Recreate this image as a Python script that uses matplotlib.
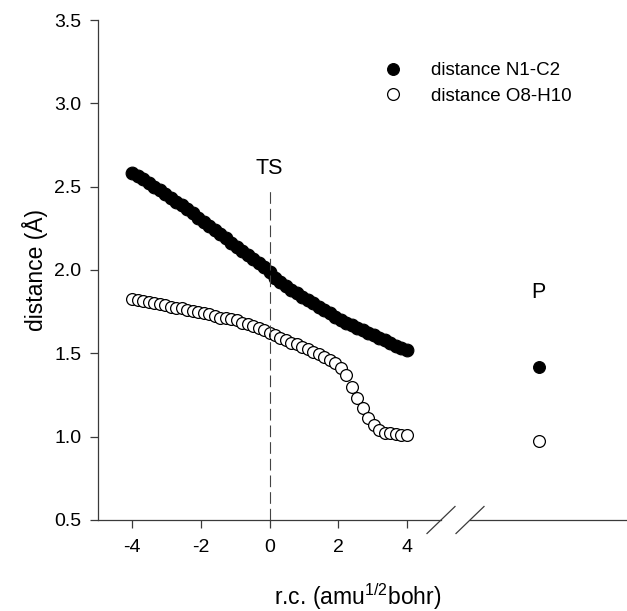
import matplotlib
matplotlib.use("Agg")
import matplotlib.pyplot as plt
from matplotlib.lines import Line2D

plt.rcParams["font.family"] = ["Liberation Sans", "DejaVu Sans"]
plt.rcParams["mathtext.default"] = "regular"
plt.rcParams["axes.unicode_minus"] = False

# reaction coordinate (amu^1/2 bohr)
rc = [-4.00, -3.84, -3.68, -3.52, -3.36, -3.20, -3.04, -2.88, -2.72, -2.56,
      -2.40, -2.24, -2.08, -1.92, -1.76, -1.60, -1.44, -1.28, -1.12, -0.96,
      -0.80, -0.64, -0.48, -0.32, -0.16, 0.00, 0.16, 0.32, 0.48, 0.64,
      0.80, 0.96, 1.12, 1.28, 1.44, 1.60, 1.76, 1.92, 2.08, 2.24,
      2.40, 2.56, 2.72, 2.88, 3.04, 3.20, 3.36, 3.52, 3.68, 3.84, 4.00]

# distance N1-C2 (filled)
d_n1c2 = [2.580, 2.565, 2.545, 2.520, 2.500, 2.480, 2.455, 2.435, 2.410, 2.390,
          2.365, 2.340, 2.315, 2.290, 2.265, 2.240, 2.215, 2.190, 2.165, 2.140,
          2.115, 2.090, 2.065, 2.045, 2.020, 1.990, 1.955, 1.930, 1.905, 1.880,
          1.860, 1.840, 1.820, 1.800, 1.780, 1.760, 1.740, 1.720, 1.700, 1.685,
          1.670, 1.655, 1.640, 1.625, 1.610, 1.595, 1.580, 1.560, 1.545, 1.530,
          1.520]

# distance O8-H10 (open)
d_o8h10 = [1.825, 1.820, 1.815, 1.810, 1.800, 1.795, 1.790, 1.780, 1.775, 1.770,
           1.760, 1.755, 1.750, 1.740, 1.735, 1.725, 1.715, 1.710, 1.705, 1.700,
           1.685, 1.675, 1.665, 1.650, 1.640, 1.625, 1.610, 1.595, 1.580, 1.565,
           1.555, 1.540, 1.525, 1.510, 1.495, 1.480, 1.460, 1.445, 1.415, 1.370,
           1.300, 1.235, 1.170, 1.115, 1.070, 1.040, 1.025, 1.020, 1.015, 1.010,
           1.010]

# product point (placed on its own segment after the axis break)
p_x = [7.0]
p_n1c2 = [1.42]
p_o8h10 = [0.975]

xticks = [-4, -2, 0, 2, 4]
yticks = [0.5, 1.0, 1.5, 2.0, 2.5, 3.0, 3.5]
ts_x = 0.0
ts_top = 2.48

AX_COLOR = "#3a3a3a"
MS_FILL = 9.2
MS_OPEN = 8.5

fig = plt.figure(figsize=(6.27, 6.11), dpi=100)
W, H = 627.0, 611.0
ax = fig.add_axes([98 / W, 91 / H, 343 / W, 500 / H])
axp = fig.add_axes([470 / W, 91 / H, 157 / W, 500 / H])
axp.patch.set_visible(False)

h_fill, = ax.plot(rc, d_n1c2, "o", ms=MS_FILL, mfc="black", mec="black",
                  mew=0.8, label="distance N1-C2")
h_open, = ax.plot(rc, d_o8h10, "o", ms=MS_OPEN, mfc="white", mec="black",
                  mew=0.9, label="distance O8-H10")

ax.axvline(ts_x, ymin=0, ymax=(ts_top - 0.5) / 3.0, color="#444444",
           lw=0.8, ls=(0, (10.5, 4.5)))
ax.text(ts_x, 2.576, "TS", ha="center", va="baseline", fontsize=15.5)

ax.set_xlim(-5, 5)
ax.set_ylim(0.5, 3.5)
ax.set_xticks(xticks)
ax.set_xticklabels([str(t) for t in xticks])
ax.set_yticks(yticks)
ax.set_yticklabels([f"{t:.1f}" for t in yticks])
for s in ("top", "right"):
    ax.spines[s].set_visible(False)
for s in ("left", "bottom"):
    ax.spines[s].set_color(AX_COLOR)
    ax.spines[s].set_linewidth(0.9)
ax.tick_params(axis="both", direction="out", length=5.8, width=0.9,
               color=AX_COLOR, labelsize=14)
ax.tick_params(axis="y", pad=6.0)
ax.tick_params(axis="x", pad=8.0)

axp.plot(p_x, p_n1c2, "o", ms=MS_OPEN, mfc="black", mec="black", mew=0.8)
axp.plot(p_x, p_o8h10, "o", ms=MS_OPEN, mfc="white", mec="black", mew=0.9)
axp.text(p_x[0], 1.834, "P", ha="center", va="baseline", fontsize=15.5)
axp.set_xlim(5, 9.58)
axp.set_ylim(0.5, 3.5)
axp.set_xticks([])
axp.set_yticks([])
for s in ("top", "right", "left"):
    axp.spines[s].set_visible(False)
axp.spines["bottom"].set_color(AX_COLOR)
axp.spines["bottom"].set_linewidth(0.9)

# axis break marks
dx, dy = 14 / W, 13.5 / H
for xc in (441 / W, 470 / W):
    yc = 91 / H
    fig.add_artist(Line2D([xc - dx, xc + dx], [yc - dy, yc + dy],
                          color=AX_COLOR, lw=0.9))

leg_fill = Line2D([], [], ls="none", marker="o", ms=MS_OPEN, mfc="black",
                  mec="black", mew=0.8)
leg_open = Line2D([], [], ls="none", marker="o", ms=MS_OPEN, mfc="white",
                  mec="black", mew=0.9)
fig.legend([leg_fill, leg_open], [h_fill.get_label(), h_open.get_label()],
           loc="upper left", bbox_to_anchor=(383.7 / W, 0.898),
           frameon=False, borderpad=0, borderaxespad=0, handlelength=1.0,
           handletextpad=1.5, labelspacing=0.45, fontsize=13.5)

fig.text(35 / W, (H - 270) / H, "distance (Å)", rotation=90,
         ha="center", va="center", fontsize=16.5)
fig.text(358 / W, (H - 605) / H, "r.c. (amu$^{1/2}$bohr)",
         ha="center", va="baseline", fontsize=16.5)

fig.savefig("out.png", dpi=100)
